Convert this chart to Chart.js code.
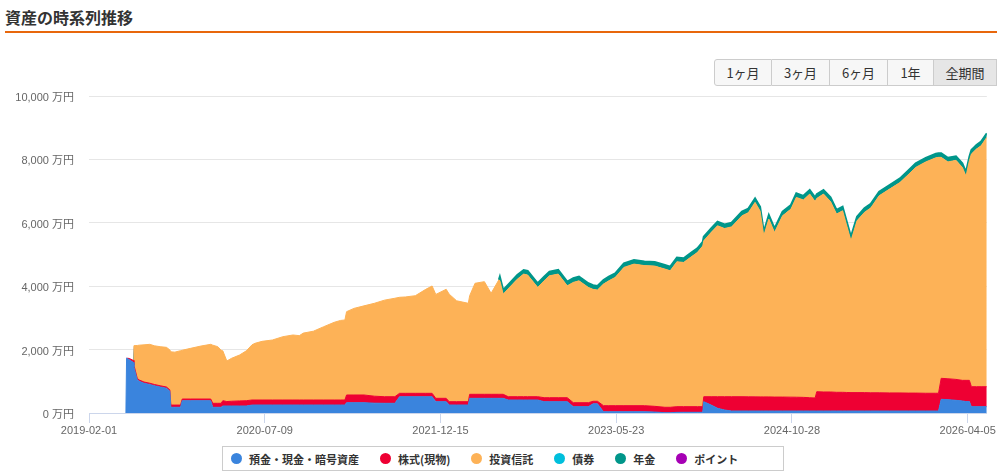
<!DOCTYPE html>
<html lang="ja">
<head>
<meta charset="utf-8">
<title>資産の時系列推移</title>
<script src="https://cdn.jsdelivr.net/npm/chart.js@4.4.1/dist/chart.umd.min.js"></script>
<style>
    html, body { margin: 0; padding: 0; background: #fff; }
    body { width: 997px; height: 475px; position: relative; overflow: hidden;
           font-family: "Liberation Sans", Arial, "Noto Sans CJK JP", sans-serif; }
    .title { position: absolute; left: 5px; top: 8px; font-size: 16px; line-height: 18px;
             font-weight: bold; color: #333; font-family: "Noto Sans CJK JP", sans-serif; }
    .title-line { position: absolute; left: 5px; top: 31px; width: 992px; height: 2px; background: #e8670c; }
    #chartBox { position: absolute; left: 0; top: 0; width: 997px; height: 445px; }
    .range { position: absolute; left: 714px; top: 59px; height: 27px; display: flex; z-index: 2; }
    .range button { height: 27px; margin: 0; padding: 0; border: 1px solid #ccc; border-left: none;
                    background: #f7f7f7; color: #333; font-size: 13px;
                    font-family: "Noto Sans CJK JP", sans-serif; }
    .range button:first-child { border-left: 1px solid #ccc; border-radius: 3px 0 0 3px; }
    .range button.active { background: #e6e6e6; }
    .legend { position: absolute; left: 222px; top: 446px; width: 552px; height: 23px;
              border: 1px solid #ccc; display: flex; align-items: center; padding-left: 8px;
              box-sizing: content-box; z-index: 2; }
    .legend .item { display: flex; align-items: center; margin-right: 21px;
                    font-size: 11px; font-weight: bold; color: #333;
                    font-family: "Noto Sans CJK JP", sans-serif; }
    .legend .dot { width: 11px; height: 11px; border-radius: 50%; margin-right: 7px; }
</style>
</head>
<body>
<div class="title">資産の時系列推移</div>
<div class="title-line"></div>
<div class="range" id="range"></div>
<div id="chartBox"><canvas id="assetChart"></canvas></div>
<div class="legend" id="legend"></div>

<script>
// 日付
const dates = [
    '2019-02-01', '2019-03-01', '2019-04-01', '2019-05-01', '2019-05-22', '2019-05-24',
    '2019-06-01', '2019-06-13', '2019-06-15', '2019-06-25', '2019-07-01', '2019-07-15',
    '2019-08-01', '2019-08-15', '2019-09-01', '2019-09-20', '2019-09-30', '2019-10-03',
    '2019-10-15', '2019-11-01', '2019-11-06', '2019-12-01', '2020-01-01', '2020-01-30',
    '2020-02-05', '2020-02-20', '2020-03-01', '2020-03-06', '2020-03-18', '2020-04-01',
    '2020-04-25', '2020-05-15', '2020-06-01', '2020-06-10', '2020-07-01', '2020-08-01',
    '2020-09-01', '2020-10-01', '2020-10-20', '2020-11-01', '2020-12-01', '2021-01-01',
    '2021-02-01', '2021-02-20', '2021-03-05', '2021-03-10', '2021-04-01', '2021-05-01',
    '2021-06-01', '2021-07-01', '2021-08-01', '2021-08-15', '2021-09-01', '2021-10-01',
    '2021-11-01', '2021-11-20', '2021-12-01', '2022-01-01', '2022-01-10', '2022-02-01',
    '2022-03-08', '2022-03-12', '2022-03-28', '2022-04-25', '2022-05-15', '2022-06-07',
    '2022-06-10', '2022-06-20', '2022-07-05', '2022-08-01', '2022-08-20', '2022-09-01',
    '2022-10-01', '2022-10-20', '2022-11-05', '2022-12-01', '2022-12-28', '2023-01-15',
    '2023-02-01', '2023-03-01', '2023-03-15', '2023-03-28', '2023-04-15', '2023-05-01',
    '2023-05-20', '2023-06-15', '2023-07-15', '2023-08-15', '2023-09-15', '2023-10-15',
    '2023-10-31', '2023-11-20', '2023-12-10', '2024-01-01', '2024-01-20', '2024-02-05',
    '2024-02-08', '2024-03-01', '2024-03-20', '2024-04-10', '2024-05-01', '2024-06-01',
    '2024-06-20', '2024-07-10', '2024-07-25', '2024-08-05', '2024-08-20', '2024-09-06',
    '2024-09-30', '2024-10-25', '2024-11-10', '2024-12-01', '2024-12-20', '2025-01-05',
    '2025-01-10', '2025-01-30', '2025-02-20', '2025-03-10', '2025-03-28', '2025-04-08',
    '2025-04-22', '2025-05-10', '2025-06-01', '2025-06-20', '2025-07-15', '2025-08-15',
    '2025-09-15', '2025-10-10', '2025-11-01', '2025-12-01', '2025-12-31', '2026-01-08',
    '2026-01-16', '2026-02-05', '2026-03-01', '2026-03-20', '2026-03-31', '2026-04-10',
    '2026-04-16', '2026-05-01', '2026-05-15', '2026-06-01'
];

// 預金・現金・暗号資産 (万円)
const deposit = [
    0, 0, 0, 0, 0, 1730, 1680, 1600, 1450, 1040, 1000, 937,
    900, 860, 820, 780, 690, 180, 180, 180, 388, 388, 388, 388,
    180, 180, 180, 221, 221, 221, 221, 221, 250, 252, 252, 252,
    252, 252, 252, 252, 252, 252, 252, 252, 252, 325, 325, 325,
    310, 306, 306, 514, 514, 514, 514, 514, 357, 357, 252, 252,
    252, 463, 463, 463, 463, 463, 463, 463, 410, 410, 410, 410,
    410, 357, 357, 357, 357, 200, 200, 200, 290, 290, 41, 41,
    41, 41, 41, 41, 30, 10, 10, 20, 22, 22, 22, 22,
    357, 250, 150, 95, 63, 63, 63, 63, 63, 63, 63, 63,
    63, 63, 63, 63, 63, 63, 63, 63, 63, 63, 63, 63,
    63, 63, 63, 63, 63, 63, 63, 63, 63, 63, 63, 63,
    432, 420, 400, 380, 360, 360, 200, 200, 200, 200
];

// 株式(現物)
const stocks = [
    0, 0, 0, 0, 0, 0, 40, 60, 60, 50, 40, 40,
    40, 40, 40, 40, 40, 70, 70, 70, 53, 53, 53, 53,
    126, 126, 126, 167, 140, 150, 160, 167, 160, 158, 158, 158,
    158, 158, 158, 158, 158, 158, 158, 158, 158, 243, 243, 243,
    220, 208, 208, 107, 107, 107, 107, 107, 106, 106, 105, 105,
    105, 127, 127, 127, 127, 127, 127, 127, 104, 104, 104, 104,
    104, 126, 126, 126, 126, 125, 125, 125, 80, 80, 190, 190,
    190, 190, 190, 190, 180, 170, 170, 180, 178, 178, 178, 178,
    157, 264, 364, 419, 451, 451, 448, 446, 445, 445, 445, 440,
    440, 437, 435, 430, 420, 410, 609, 600, 600, 590, 590, 585,
    580, 580, 580, 575, 575, 570, 570, 565, 565, 560, 560, 560,
    662, 660, 660, 650, 670, 670, 630, 630, 630, 630
];

// 投資信託
const funds = [
    0, 0, 0, 0, 0, 0, 0, 0, 614, 1040, 1100, 1173,
    1226, 1220, 1232, 1251, 1260, 1680, 1670, 1716, 1539, 1599, 1672, 1725,
    1834, 1786, 1674, 1572, 1279, 1354, 1449, 1572, 1740, 1788, 1850, 1893,
    1997, 2051, 2030, 2110, 2170, 2313, 2450, 2510, 2524, 2628, 2732, 2812,
    2931, 3046, 3106, 3029, 3039, 3079, 3279, 3386, 3277, 3440, 3393, 3183,
    3104, 3110, 3502, 3553, 3186, 3610, 3581, 3160, 3406, 3706, 3868, 3836,
    3448, 3687, 3845, 3899, 3530, 3795, 3845, 3637, 3530, 3507, 3835, 3939,
    4046, 4362, 4466, 4419, 4424, 4360, 4306, 4570, 4550, 4720, 4866, 5070,
    4919, 5182, 5392, 5306, 5356, 5707, 5809, 6134, 5862, 5082, 5609, 5193,
    5718, 5932, 6303, 6227, 6423, 6197, 6098, 6243, 6007, 5622, 5726, 5311,
    4790, 5420, 5685, 5832, 6215, 6430, 6637, 6892, 7120, 7297, 7427, 7441,
    6970, 6840, 6910, 6718, 6440, 6927, 7338, 7495, 7600, 7865
];

// 債券（残高なし）
const bonds = dates.map(() => 0);

// 年金
const pension = [
    0, 0, 0, 0, 0, 0, 0, 0, 0, 0, 0, 0,
    0, 0, 0, 0, 0, 0, 0, 0, 0, 0, 0, 0,
    0, 0, 0, 0, 0, 0, 0, 0, 0, 0, 0, 0,
    0, 0, 0, 0, 0, 0, 0, 0, 0, 0, 0, 0,
    0, 0, 0, 0, 0, 0, 0, 0, 0, 0, 0, 0,
    0, 0, 0, 0, 0, 0, 130, 130, 130, 130, 130, 130,
    130, 130, 130, 130, 130, 130, 130, 130, 130, 130, 130, 130,
    130, 130, 130, 130, 130, 130, 130, 130, 130, 130, 130, 130,
    130, 130, 130, 130, 130, 130, 130, 130, 130, 130, 130, 130,
    130, 130, 130, 130, 130, 130, 130, 130, 130, 130, 130, 130,
    130, 130, 130, 130, 130, 130, 130, 130, 130, 130, 130, 130,
    130, 130, 130, 130, 130, 130, 130, 130, 130, 130
];

// ポイント（残高なし）
const points = dates.map(() => 0);

const seriesNames = ['預金・現金・暗号資産', '株式(現物)', '投資信託', '債券', '年金', 'ポイント'];
const seriesColors = ['#3a84dd', '#ee0033', '#fdb257', '#00bfdc', '#00968a', '#a600b5'];
const seriesValues = [deposit, stocks, funds, bonds, pension, points];

const xTickDates = ['2019-02-01', '2020-07-09', '2021-12-15', '2023-05-23', '2024-10-28', '2026-04-05'];
const yTicks = [0, 2000, 4000, 6000, 8000, 10000];
const rangeButtons = ['1ヶ月', '3ヶ月', '6ヶ月', '1年', '全期間'];
const rangeWidths = [58, 58, 58, 46, 63];

const toTime = (s) => Date.parse(s);
const fmtDate = (t) => new Date(t).toISOString().slice(0, 10);

// ボタン
const range = document.getElementById('range');
rangeButtons.forEach((label, i) => {
    const btn = document.createElement('button');
    btn.textContent = label;
    btn.style.width = rangeWidths[i] + 'px';
    if (i === rangeButtons.length - 1) btn.classList.add('active');
    range.appendChild(btn);
});

// 凡例
const legend = document.getElementById('legend');
seriesNames.forEach((name, i) => {
    const item = document.createElement('div');
    item.className = 'item';
    item.innerHTML = `<span class="dot" style="background:${seriesColors[i]}"></span>${name}`;
    legend.appendChild(item);
});

// 残高ゼロ区間では線を描かない
const edgeColor = (color) => (c) =>
    (c.p0.parsed.y === 0 && c.p1.parsed.y === 0) ? 'rgba(0,0,0,0)' : color;

const datasets = seriesNames.map((name, i) => ({
    label: name,
    data: dates.map((d, k) => ({ x: toTime(d), y: seriesValues[i][k] })),
    backgroundColor: seriesColors[i],
    borderColor: seriesColors[i],
    borderWidth: i === 4 ? 2 : 1,
    segment: { borderColor: edgeColor(seriesColors[i]) },
    pointRadius: 0,
    tension: 0,
    fill: i === 0 ? 'origin' : '-1'
}));

Chart.defaults.font.family = '"Liberation Sans", Arial, "Noto Sans CJK JP", sans-serif';

const ctx = document.getElementById('assetChart').getContext('2d');
new Chart(ctx, {
    type: 'line',
    data: { datasets: datasets },
    options: {
        responsive: true,
        maintainAspectRatio: false,
        animation: false,
        layout: { padding: { top: 96, right: 8, bottom: 2, left: 0 } },
        plugins: {
            legend: { display: false },
            tooltip: { enabled: false }
        },
        scales: {
            x: {
                type: 'linear',
                min: toTime(dates[0]),
                max: toTime(dates[dates.length - 1]),
                afterBuildTicks: (scale) => {
                    scale.ticks = xTickDates.map(d => ({ value: toTime(d) }));
                },
                afterFit: (scale) => { scale.height = 30; },
                grid: {
                    drawOnChartArea: false,
                    drawTicks: true,
                    tickLength: 10,
                    color: '#ccd6eb'
                },
                border: { color: '#ccd6eb', width: 1 },
                ticks: {
                    autoSkip: false,
                    maxRotation: 0,
                    padding: 1,
                    color: '#666',
                    font: { size: 11 },
                    callback: (v) => fmtDate(v)
                }
            },
            y: {
                stacked: true,
                min: 0,
                max: 10000,
                afterBuildTicks: (scale) => {
                    scale.ticks = yTicks.map(v => ({ value: v }));
                },
                afterFit: (scale) => { scale.width = 89; },
                grid: { color: '#e6e6e6', drawTicks: false },
                border: { display: false },
                ticks: {
                    padding: 15,
                    color: '#666',
                    font: { size: 11 },
                    labelOffset: 2,
                    callback: (v) => v.toLocaleString('en-US') + ' 万円'
                }
            }
        }
    }
});
</script>
</body>
</html>
